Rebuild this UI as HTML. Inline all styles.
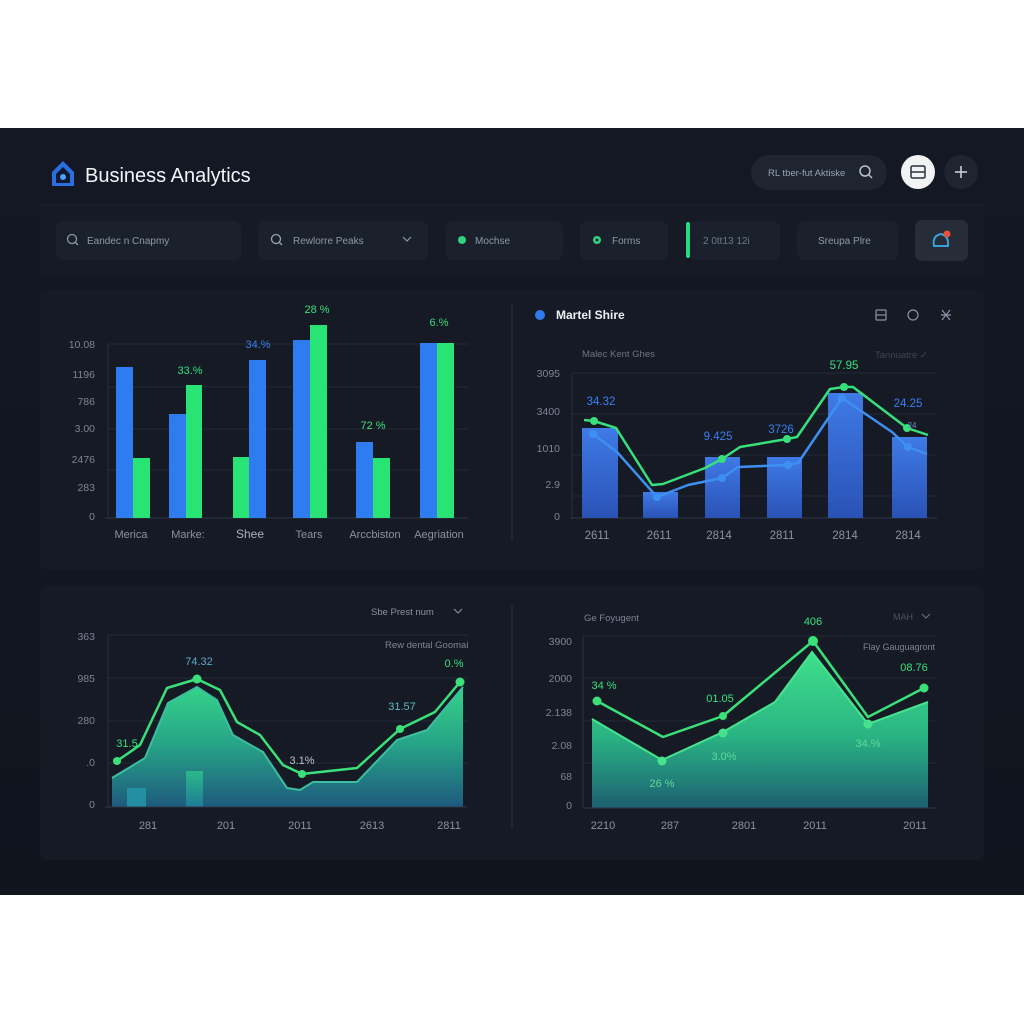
<!DOCTYPE html>
<html><head><meta charset="utf-8"><style>
html,body{margin:0;padding:0;background:#fff;}
svg{display:block;}
text{font-family:"Liberation Sans",sans-serif;}
</style></head><body>
<svg width="1024" height="1024" viewBox="0 0 1024 1024" xmlns="http://www.w3.org/2000/svg">
<defs>
<linearGradient id="bg" x1="0" y1="0" x2="0" y2="1"><stop offset="0" stop-color="#131824"/><stop offset="1" stop-color="#10141d"/></linearGradient>
<linearGradient id="bbar" x1="0" y1="0" x2="0" y2="1"><stop offset="0" stop-color="#3f7ae6"/><stop offset="1" stop-color="#2a52b5"/></linearGradient>
<linearGradient id="ag1" x1="0" y1="680" x2="0" y2="807" gradientUnits="userSpaceOnUse"><stop offset="0" stop-color="#36d98a"/><stop offset="0.5" stop-color="#27a487"/><stop offset="1" stop-color="#1e5a7e"/></linearGradient>
<linearGradient id="ag2" x1="0" y1="650" x2="0" y2="808" gradientUnits="userSpaceOnUse"><stop offset="0" stop-color="#3fe28c"/><stop offset="0.55" stop-color="#2ab383"/><stop offset="1" stop-color="#1d5f72"/></linearGradient>
<linearGradient id="sb" x1="0" y1="0" x2="0" y2="1"><stop offset="0" stop-color="#2bb88a"/><stop offset="1" stop-color="#1f7c96"/></linearGradient>
</defs>
<rect x="0" y="0" width="1024" height="1024" fill="#ffffff"/>
<rect x="0" y="128" width="1024" height="767" fill="url(#bg)"/>

<!-- header -->
<g>
<path d="M52 172 L63 161 L74 172 L74 186 L52 186 Z" fill="#2a6ee0"/>
<path d="M56 174 L63 167 L70 174 L70 183 L56 183 Z" fill="#0f1a30"/>
<circle cx="63" cy="177" r="3" fill="#4da0ff"/>
<text x="85" y="182" font-size="20" fill="#f2f4f8" font-weight="500">Business Analytics</text>
<rect x="751" y="155" width="136" height="35" rx="17.5" fill="#1e2430"/>
<text x="768" y="176" font-size="9.5" fill="#9aa2b1">RL tber-fut Aktiske</text>
<circle cx="865" cy="171" r="5" fill="none" stroke="#b9c0cc" stroke-width="1.5"/><line x1="869" y1="175" x2="872" y2="178" stroke="#b9c0cc" stroke-width="1.5"/>
<circle cx="918" cy="172" r="17" fill="#f2f3f5"/>
<rect x="911" y="166" width="14" height="12" rx="1.5" fill="none" stroke="#2a2f3a" stroke-width="1.5"/><line x1="911" y1="172" x2="925" y2="172" stroke="#2a2f3a" stroke-width="1.5"/>
<circle cx="961" cy="172" r="17" fill="#1e2430"/>
<line x1="955" y1="172" x2="967" y2="172" stroke="#c8ced8" stroke-width="1.6"/><line x1="961" y1="166" x2="961" y2="178" stroke="#c8ced8" stroke-width="1.6"/>
</g>

<!-- filter bar -->
<rect x="40" y="204" width="944" height="72" rx="6" fill="#151a25"/>
<line x1="40" y1="204.5" x2="984" y2="204.5" stroke="#20263280" stroke-width="1"/>
<g font-size="10" fill="#8f97a6">
<rect x="56" y="221" width="185" height="39" rx="7" fill="#1b212c"/>
<circle cx="72" cy="239" r="4.5" fill="none" stroke="#8f97a6" stroke-width="1.3"/><line x1="75" y1="242" x2="78" y2="245" stroke="#8f97a6" stroke-width="1.3"/>
<text x="87" y="244">Eandec n Cnapmy</text>
<rect x="258" y="221" width="170" height="39" rx="7" fill="#1b212c"/>
<circle cx="276" cy="239" r="4.5" fill="none" stroke="#9aa2b1" stroke-width="1.3"/><line x1="279" y1="242" x2="282" y2="245" stroke="#9aa2b1" stroke-width="1.3"/>
<text x="293" y="244">Rewlorre Peaks</text>
<path d="M403 237 L407 241 L411 237" fill="none" stroke="#8f97a6" stroke-width="1.2"/>
<rect x="446" y="221" width="117" height="39" rx="7" fill="#1b212c"/>
<circle cx="462" cy="240" r="4" fill="#2ed47f"/>
<text x="475" y="244">Mochse</text>
<rect x="580" y="221" width="88" height="39" rx="7" fill="#1b212c"/>
<circle cx="597" cy="240" r="4" fill="#2ed47f"/><circle cx="597" cy="240" r="1.5" fill="#1b212c"/>
<text x="612" y="244">Forms</text>
<rect x="690" y="221" width="90" height="39" rx="7" fill="#1b212c"/>
<rect x="686" y="222" width="4" height="36" rx="2" fill="#27d97f"/>
<text x="703" y="244" fill="#6f7787">2 0tt13 12i</text>
<rect x="797" y="221" width="101" height="39" rx="7" fill="#1b212c"/>
<text x="818" y="244">Sreupa Plre</text>
<rect x="915" y="220" width="53" height="41" rx="7" fill="#262c38"/>
<path d="M934 246 Q932 236 941 234 Q949 236 948 246 Z" fill="none" stroke="#3aa0d8" stroke-width="2"/>
<circle cx="947" cy="234" r="3.5" fill="#e5533d"/>
</g>

<!-- top panel -->
<rect x="40" y="290" width="944" height="279" rx="6" fill="#151a25"/>
<line x1="512" y1="305" x2="512" y2="540" stroke="#2a303c" stroke-width="1"/>

<!-- top-left bar chart -->
<g stroke="#222937" stroke-width="1">
<line x1="108" y1="344" x2="468" y2="344"/><line x1="108" y1="387" x2="468" y2="387"/><line x1="108" y1="429" x2="468" y2="429"/><line x1="108" y1="470" x2="468" y2="470"/>
</g>
<line x1="108" y1="344" x2="108" y2="518" stroke="#2a303c"/>
<line x1="105" y1="518" x2="468" y2="518" stroke="#2e3542"/>
<g font-size="10.5" fill="#7c8496" text-anchor="end">
<text x="95" y="348">10.08</text><text x="95" y="378">1196</text><text x="95" y="405">786</text><text x="95" y="432">3.00</text><text x="95" y="463">2476</text><text x="95" y="491">283</text><text x="95" y="520">0</text>
</g>
<g fill="#2f7cf0">
<rect x="116" y="367" width="17" height="151"/><rect x="169" y="414" width="17" height="104"/><rect x="249" y="360" width="17" height="158"/><rect x="293" y="340" width="17" height="178"/><rect x="356" y="442" width="17" height="76"/><rect x="420" y="343" width="17" height="175"/>
</g>
<g fill="#27e474">
<rect x="133" y="458" width="17" height="60"/><rect x="186" y="385" width="16" height="133"/><rect x="233" y="457" width="16" height="61"/><rect x="310" y="325" width="17" height="193"/><rect x="373" y="458" width="17" height="60"/><rect x="437" y="343" width="17" height="175"/>
</g>
<g font-size="11" text-anchor="middle">
<text x="190" y="374" fill="#34e07c">33.%</text>
<text x="258" y="348" fill="#3a7ff0">34.%</text>
<text x="317" y="313" fill="#34e07c">28 %</text>
<text x="373" y="429" fill="#34e07c">72 %</text>
<text x="439" y="326" fill="#34e07c">6.%</text>
</g>
<g font-size="11" fill="#8a92a3" text-anchor="middle">
<text x="131" y="538">Merica</text><text x="188" y="538">Marke:</text><text x="250" y="538" font-size="12" fill="#a9b0bd">Shee</text><text x="309" y="538">Tears</text><text x="375" y="538">Arccbiston</text><text x="439" y="538">Aegriation</text>
</g>

<!-- top-right chart -->
<circle cx="540" cy="315" r="5" fill="#2f7cf0"/>
<text x="556" y="319" font-size="12" fill="#eef1f6" font-weight="bold">Martel Shire</text>
<g fill="none" stroke="#8a92a3" stroke-width="1.2">
<rect x="876" y="310" width="10" height="10" rx="1"/><line x1="876" y1="315" x2="886" y2="315"/>
<circle cx="913" cy="315" r="5"/>
<path d="M942 310 L950 320 M950 310 L942 320 M941 315 L951 315"/>
</g>
<text x="582" y="357" font-size="9.5" fill="#6c7485">Malec Kent Ghes</text>
<text x="875" y="358" font-size="9.5" fill="#3e4553">Tannuatre ✓</text>
<g stroke="#222937" stroke-width="1">
<line x1="572" y1="373" x2="937" y2="373"/><line x1="572" y1="414" x2="937" y2="414"/><line x1="572" y1="455" x2="937" y2="455"/><line x1="572" y1="496" x2="937" y2="496"/>
</g>
<line x1="572" y1="373" x2="572" y2="518" stroke="#2a303c"/>
<line x1="570" y1="518" x2="937" y2="518" stroke="#2e3542"/>
<g font-size="10.5" fill="#7c8496" text-anchor="end">
<text x="560" y="377">3095</text><text x="560" y="415">3400</text><text x="560" y="452">1010</text><text x="560" y="488">2.9</text><text x="560" y="520">0</text>
</g>
<g fill="url(#bbar)">
<rect x="582" y="428" width="36" height="90"/><rect x="643" y="492" width="35" height="26"/><rect x="705" y="457" width="35" height="61"/><rect x="767" y="457" width="35" height="61"/><rect x="828" y="393" width="35" height="125"/><rect x="892" y="437" width="35" height="81"/>
</g>
<polyline points="593,434 617,452 657,497 688,485 722,478 738,467 788,465 798,463 842,398 892,432 908,447 927,454" fill="none" stroke="#3d90f2" stroke-width="2.5" stroke-linejoin="round"/>
<polyline points="584,420 594,421 616,428 652,485 663,484 705,468 722,459 740,447 787,439 797,437 830,389 844,387 853,387 907,428 928,435" fill="none" stroke="#37e07b" stroke-width="2.5" stroke-linejoin="round"/>
<g fill="#3d90f2"><circle cx="593" cy="434" r="4"/><circle cx="657" cy="497" r="4"/><circle cx="722" cy="478" r="4"/><circle cx="788" cy="465" r="4"/><circle cx="842" cy="398" r="4"/><circle cx="908" cy="447" r="4"/></g>
<g fill="#37e07b"><circle cx="594" cy="421" r="4"/><circle cx="722" cy="459" r="4"/><circle cx="787" cy="439" r="4"/><circle cx="844" cy="387" r="4"/><circle cx="907" cy="428" r="4"/></g>
<g font-size="11.5" text-anchor="middle">
<text x="601" y="405" fill="#3a7ff0">34.32</text>
<text x="718" y="440" fill="#3a7ff0">9.425</text>
<text x="781" y="433" fill="#3a7ff0">3726</text>
<text x="844" y="369" fill="#37e07b">57.95</text>
<text x="908" y="407" fill="#3a7ff0">24.25</text>
<text x="912" y="428" font-size="8" fill="#6d88c8">24</text>
</g>
<g font-size="11.5" fill="#8a92a3" text-anchor="middle">
<text x="597" y="539">2611</text><text x="659" y="539">2611</text><text x="719" y="539">2814</text><text x="782" y="539">2811</text><text x="845" y="539">2814</text><text x="908" y="539">2814</text>
</g>

<!-- bottom panel -->
<rect x="40" y="585" width="944" height="275" rx="6" fill="#151a25"/>
<line x1="512" y1="605" x2="512" y2="828" stroke="#2a303c" stroke-width="1"/>

<!-- bottom-left -->
<text x="371" y="615" font-size="9.5" fill="#8a92a3">Sbe Prest num</text>
<path d="M454 609 L458 613 L462 609" fill="none" stroke="#8a92a3" stroke-width="1.1"/>
<text x="385" y="648" font-size="9.5" fill="#7c8496">Rew dental Goomai</text>
<g stroke="#222937" stroke-width="1">
<line x1="108" y1="635" x2="467" y2="635"/><line x1="108" y1="678" x2="467" y2="678"/><line x1="108" y1="721" x2="467" y2="721"/><line x1="108" y1="763" x2="467" y2="763"/>
</g>
<line x1="108" y1="635" x2="108" y2="807" stroke="#2a303c"/>
<g font-size="10.5" fill="#7c8496" text-anchor="end">
<text x="95" y="640">363</text><text x="95" y="682">985</text><text x="95" y="724">280</text><text x="95" y="766">.0</text><text x="95" y="808">0</text>
</g>
<path d="M112,778 L145,758 L168,703 L197,687 L217,700 L233,735 L263,752 L287,788 L300,790 L313,782 L357,782 L397,740 L427,730 L463,687 L463,807 L112,807 Z" fill="url(#ag1)"/>
<polyline points="112,778 145,758 168,703 197,687 217,700 233,735 263,752 287,788 300,790 313,782 357,782 397,740 427,730 463,687" fill="none" stroke="#3bbfa0" stroke-width="2"/>
<rect x="127" y="788" width="19" height="19" fill="#2496a8" opacity="0.85"/>
<rect x="186" y="771" width="17" height="36" fill="url(#sb)"/>
<line x1="105" y1="807" x2="467" y2="807" stroke="#2e3542"/>
<polyline points="117,761 140,745 167,688 197,679 220,690 237,722 260,735 283,765 302,774 357,768 400,729 435,712 460,682" fill="none" stroke="#3be07a" stroke-width="2.5" stroke-linejoin="round"/>
<g fill="#3be07a"><circle cx="117" cy="761" r="4"/><circle cx="197" cy="679" r="4.5"/><circle cx="302" cy="774" r="4"/><circle cx="400" cy="729" r="4"/><circle cx="460" cy="682" r="4.5"/></g>
<g font-size="11" text-anchor="middle">
<text x="199" y="665" fill="#5fa9c6">74.32</text>
<text x="127" y="747" fill="#37e07b">31.5</text>
<text x="302" y="764" fill="#b8c0cc">3.1%</text>
<text x="402" y="710" fill="#5fb9c0">31.57</text>
<text x="454" y="667" fill="#37e07b">0.%</text>
</g>
<g font-size="11" fill="#8a92a3" text-anchor="middle">
<text x="148" y="829">281</text><text x="226" y="829">201</text><text x="300" y="829">2011</text><text x="372" y="829">2613</text><text x="449" y="829">2811</text>
</g>

<!-- bottom-right -->
<text x="584" y="621" font-size="9.5" fill="#7c8496">Ge Foyugent</text>
<text x="893" y="620" font-size="9" fill="#4a5160">MAH</text>
<path d="M922 614 L926 618 L930 614" fill="none" stroke="#6a7283" stroke-width="1.1"/>
<text x="863" y="650" font-size="9" fill="#7c8496">Flay Gauguagront</text>
<g stroke="#222937" stroke-width="1">
<line x1="583" y1="636" x2="935" y2="636"/><line x1="583" y1="678" x2="935" y2="678"/><line x1="583" y1="721" x2="935" y2="721"/><line x1="583" y1="763" x2="935" y2="763"/>
</g>
<line x1="583" y1="636" x2="583" y2="808" stroke="#2a303c"/>
<g font-size="10.5" fill="#7c8496" text-anchor="end">
<text x="572" y="645">3900</text><text x="572" y="682">2000</text><text x="572" y="716">2.138</text><text x="572" y="749">2.08</text><text x="572" y="780">68</text><text x="572" y="809">0</text>
</g>
<path d="M592,719 L662,760 L723,732 L775,702 L812,652 L868,724 L928,702 L928,808 L592,808 Z" fill="url(#ag2)"/>
<polyline points="592,719 662,760 723,732 775,702 812,652 868,724 928,702" fill="none" stroke="#46e48e" stroke-width="2"/>
<line x1="583" y1="808" x2="935" y2="808" stroke="#2e3542"/>
<polyline points="597,701 663,737 723,716 813,641 868,717 924,688" fill="none" stroke="#3be07a" stroke-width="2.5" stroke-linejoin="round"/>
<g fill="#3be07a"><circle cx="597" cy="701" r="4.5"/><circle cx="723" cy="716" r="4"/><circle cx="813" cy="641" r="5"/><circle cx="924" cy="688" r="4.5"/></g>
<g fill="#48e28e"><circle cx="662" cy="761" r="4.5"/><circle cx="723" cy="733" r="4.5"/><circle cx="868" cy="724" r="4.5"/></g>
<g font-size="11" text-anchor="middle">
<text x="604" y="689" fill="#37e07b">34 %</text>
<text x="720" y="702" fill="#37e07b">01.05</text>
<text x="813" y="625" fill="#37e07b">406</text>
<text x="914" y="671" fill="#37e07b">08.76</text>
<text x="724" y="760" fill="#5fd99a">3.0%</text>
<text x="662" y="787" fill="#5fd99a">26 %</text>
<text x="868" y="747" fill="#5fd99a">34.%</text>
</g>
<g font-size="11" fill="#8a92a3" text-anchor="middle">
<text x="603" y="829">2210</text><text x="670" y="829">287</text><text x="744" y="829">2801</text><text x="815" y="829">2011</text><text x="915" y="829">2011</text>
</g>
</svg>
</body></html>
